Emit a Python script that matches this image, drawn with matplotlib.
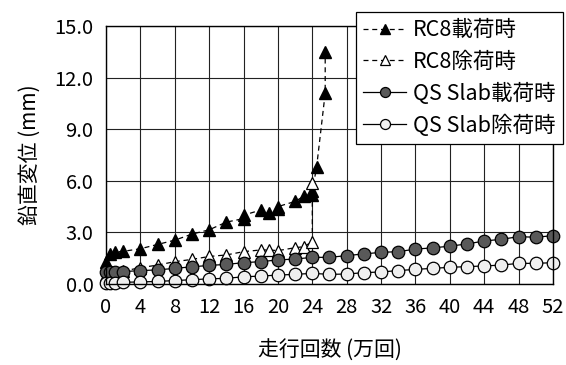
import matplotlib
matplotlib.use("Agg")
import matplotlib.pyplot as plt

plt.rcParams["font.family"] = ["Noto Sans CJK JP", "DejaVu Sans"]

# RC8 slab, loaded / unloaded deflection
rc8_load_x = [0, 0.5, 1, 2, 4, 6, 8, 10, 12, 14, 16, 16, 18, 19, 20, 20, 22, 23, 24, 24, 24.5, 25.5, 25.5]
rc8_load_y = [1.3, 1.75, 1.85, 1.9, 2.05, 2.3, 2.55, 2.9, 3.15, 3.6, 3.8, 4.0, 4.3, 4.1, 4.35, 4.5, 4.8, 5.1, 5.2, 5.4, 6.8, 11.1, 13.5]
rc8_unload_x = [0, 0.5, 1, 2, 4, 6, 8, 10, 12, 14, 16, 18, 19, 20, 22, 23, 24, 24]
rc8_unload_y = [0.55, 0.6, 0.65, 0.75, 0.95, 1.1, 1.3, 1.43, 1.6, 1.69, 1.88, 1.98, 1.98, 1.94, 2.11, 2.17, 2.46, 5.9]

# QS Slab, loaded / unloaded deflection
qs_x = [0, 0.5, 1, 2, 4, 6, 8, 10, 12, 14, 16, 18, 20, 22, 24, 26, 28, 30, 32, 34, 36, 38, 40, 42, 44, 46, 48, 50, 52]
qs_load_y = [0.7, 0.7, 0.72, 0.72, 0.78, 0.82, 0.91, 1.0, 1.08, 1.14, 1.24, 1.3, 1.4, 1.45, 1.55, 1.55, 1.65, 1.75,
             1.84, 1.88, 2.03, 2.1, 2.2, 2.33, 2.5, 2.6, 2.75, 2.72, 2.81]
qs_unload_y = [0.05, 0.05, 0.07, 0.1, 0.12, 0.15, 0.2, 0.25, 0.3, 0.33, 0.42, 0.46, 0.52, 0.56, 0.62, 0.56, 0.58, 0.66,
               0.7, 0.78, 0.85, 0.91, 0.97, 1.01, 1.05, 1.1, 1.2, 1.2, 1.24]

labels = ["RC8載荷時", "RC8除荷時", "QS Slab載荷時", "QS Slab除荷時"]
x_ticks = list(range(0, 53, 4))
y_ticks = [0, 3, 6, 9, 12, 15]

fig = plt.figure(figsize=(5.66, 3.65), dpi=100)
ax = fig.add_axes([0.1873, 0.2219, 0.7897, 0.7069])

dash = (0, (4, 3))
ax.plot(rc8_load_x, rc8_load_y, linestyle=dash, color="k", linewidth=0.9, marker="^",
        markersize=8.5, markerfacecolor="k", markeredgecolor="k", clip_on=False, label=labels[0])
ax.plot(rc8_unload_x, rc8_unload_y, linestyle=dash, color="k", linewidth=0.9, marker="^",
        markersize=8.5, markerfacecolor="white", markeredgecolor="k", markeredgewidth=0.9,
        clip_on=False, label=labels[1])
ax.plot(qs_x, qs_load_y, linestyle="-", color="k", linewidth=0.9, marker="o",
        markersize=9, markerfacecolor="#595959", markeredgecolor="k", markeredgewidth=0.9,
        clip_on=False, label=labels[2])
ax.plot(qs_x, qs_unload_y, linestyle="-", color="k", linewidth=0.9, marker="o",
        markersize=9, markerfacecolor="#efefef", markeredgecolor="k", markeredgewidth=0.9,
        clip_on=False, label=labels[3])

ax.set_xlim(0, 52)
ax.set_ylim(0, 15)
ax.set_xticks(x_ticks)
ax.set_yticks(y_ticks)
ax.set_yticklabels([f"{v:.1f}" for v in y_ticks])
ax.tick_params(length=0, labelsize=14.5, pad=9)
ax.grid(True, color="#222222", linewidth=0.8)
ax.set_axisbelow(True)
for s in ax.spines.values():
    s.set_color("k")
    s.set_linewidth(1.0)

ax.set_xlabel("走行回数 (万回)", fontsize=15, labelpad=16)
ax.set_ylabel("鉛直変位 (mm)", fontsize=15, labelpad=10)

leg = ax.legend(loc="upper right", bbox_to_anchor=(0.994, 0.968), bbox_transform=fig.transFigure,
                borderaxespad=0, fontsize=15.5, frameon=True, fancybox=False, framealpha=1,
                edgecolor="k", handlelength=2.0, handletextpad=0.3, labelspacing=0.45,
                borderpad=0.35, markerscale=0.8)
leg.get_frame().set_linewidth(0.9)
leg.set_zorder(100)

fig.savefig("out.png", dpi=100)
